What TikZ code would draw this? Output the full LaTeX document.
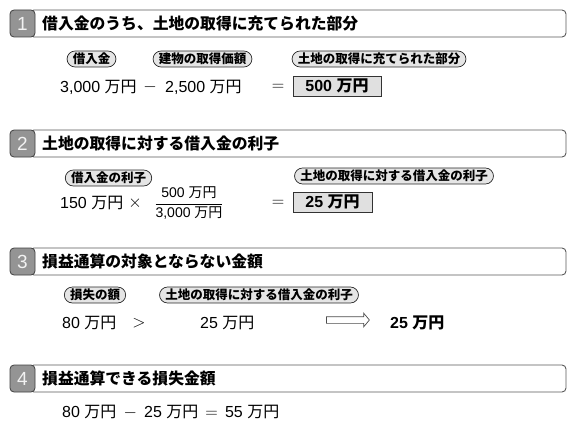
\documentclass[tikz,border=0pt]{standalone}
\usepackage{fontspec}
\usepackage{amsmath}
\setmainfont{Liberation Sans}
\newfontfamily\jpfont{Noto Sans CJK JP}
\usetikzlibrary{shapes.misc}
\usetikzlibrary{shapes.arrows}

\newcommand{\mny}[1]{#1\ {\jpfont 万円}}

\tikzset{
  headbar/.style={draw=black!65, line width=0.9pt, rounded corners=4pt, fill=white},
  numbox/.style={draw=black!75, fill=black!42, rounded corners=4pt, line width=0.8pt,
    minimum width=25pt, minimum height=27pt, inner sep=0pt, text=black!5,
    font=\fontsize{19}{19}\selectfont},
  headtext/.style={anchor=west, inner sep=0pt, font=\jpfont\bfseries\fontsize{15.8}{18}\selectfont},
  pill/.style={rounded rectangle, draw=black!85, fill=black!10, line width=0.7pt,
    inner xsep=3pt, inner ysep=2pt, font=\jpfont\bfseries\fontsize{12.5}{13}\selectfont},
  val/.style={inner sep=0pt, font=\fontsize{16}{18}\selectfont},
  valbox/.style={draw=black!80, fill=black!12, line width=0.8pt, minimum height=20pt,
    inner sep=0pt, font=\bfseries\fontsize{16}{18}\selectfont},
}

\begin{document}
\begin{tikzpicture}[x=1pt,y=-1pt]
\useasboundingbox (0,0) rectangle (580,428);

%section 1
\draw[headbar] (30,10) rectangle (566,37);
\node[numbox] (n1) at (22.5,23.5) {1};
\node[headtext] (h1) at (42,23.5) {借入金のうち、土地の取得に充てられた部分};
\node[pill] (p11) at (91.5,59) {借入金};
\node[pill] (p12) at (202.5,59) {建物の取得価額};
\node[pill] (p13) at (379,59) {土地の取得に充てられた部分};
\node[val, anchor=west] (v11) at (60,87) {\mny{3,000}};
\node[val] (m11) at (150,87) {$-$};
\node[val, anchor=west] (v12) at (165,87) {\mny{2,500}};
\node[val] (e11) at (278,87) {$=$};
\node[valbox, minimum width=88pt] (r1) at (337,86) {\mny{500}};

%section 2
\draw[headbar] (30,130) rectangle (566,157);
\node[numbox] (n2) at (22.5,143.5) {2};
\node[headtext] (h2) at (42,143.5) {土地の取得に対する借入金の利子};
\node[pill] (p21) at (108.5,178) {借入金の利子};
\node[pill] (p22) at (394,176) {土地の取得に対する借入金の利子};
\node[val, anchor=west] (v21) at (60,203) {\mny{150}};
\node[val] (x21) at (135,203) {$\times$};
\node[inner sep=0pt, font=\fontsize{14}{16}\selectfont] (f21) at (189,203)
  {$\dfrac{\text{\mny{500}}}{\text{\mny{3,000}}}$};
\node[val] (e21) at (278,203) {$=$};
\node[valbox, minimum width=79pt] (r2) at (332.5,202) {\mny{25}};

%section 3
\draw[headbar] (30,248) rectangle (566,275);
\node[numbox] (n3) at (22.5,261.5) {3};
\node[headtext] (h3) at (42,261.5) {損益通算の対象とならない金額};
\node[pill] (p31) at (95,295) {損失の額};
\node[pill] (p32) at (259,295) {土地の取得に対する借入金の利子};
\node[val, anchor=west] (v31) at (62,323) {\mny{80}};
\node[val] (g31) at (139,323) {$>$};
\node[val, anchor=west] (v32) at (200,323) {\mny{25}};
\node[single arrow, draw=black!70, fill=white, line width=0.7pt, minimum height=43pt,
  single arrow head extend=3.5pt, single arrow tip angle=100,
  inner sep=0pt] (a31) at (346.5,320) {\rule{0pt}{6pt}};
\node[val, anchor=west, font=\bfseries\fontsize{16}{18}\selectfont] (v33) at (390,323) {\mny{25}};

%section 4
\draw[headbar] (30,365) rectangle (566,392);
\node[numbox] (n4) at (22.5,378.5) {4};
\node[headtext] (h4) at (42,378.5) {損益通算できる損失金額};
\node[val, anchor=west] (v41) at (62,412) {\mny{80} \,$-$\, \mny{25} \,$=$\, \mny{55}};

\end{tikzpicture}
\end{document}
